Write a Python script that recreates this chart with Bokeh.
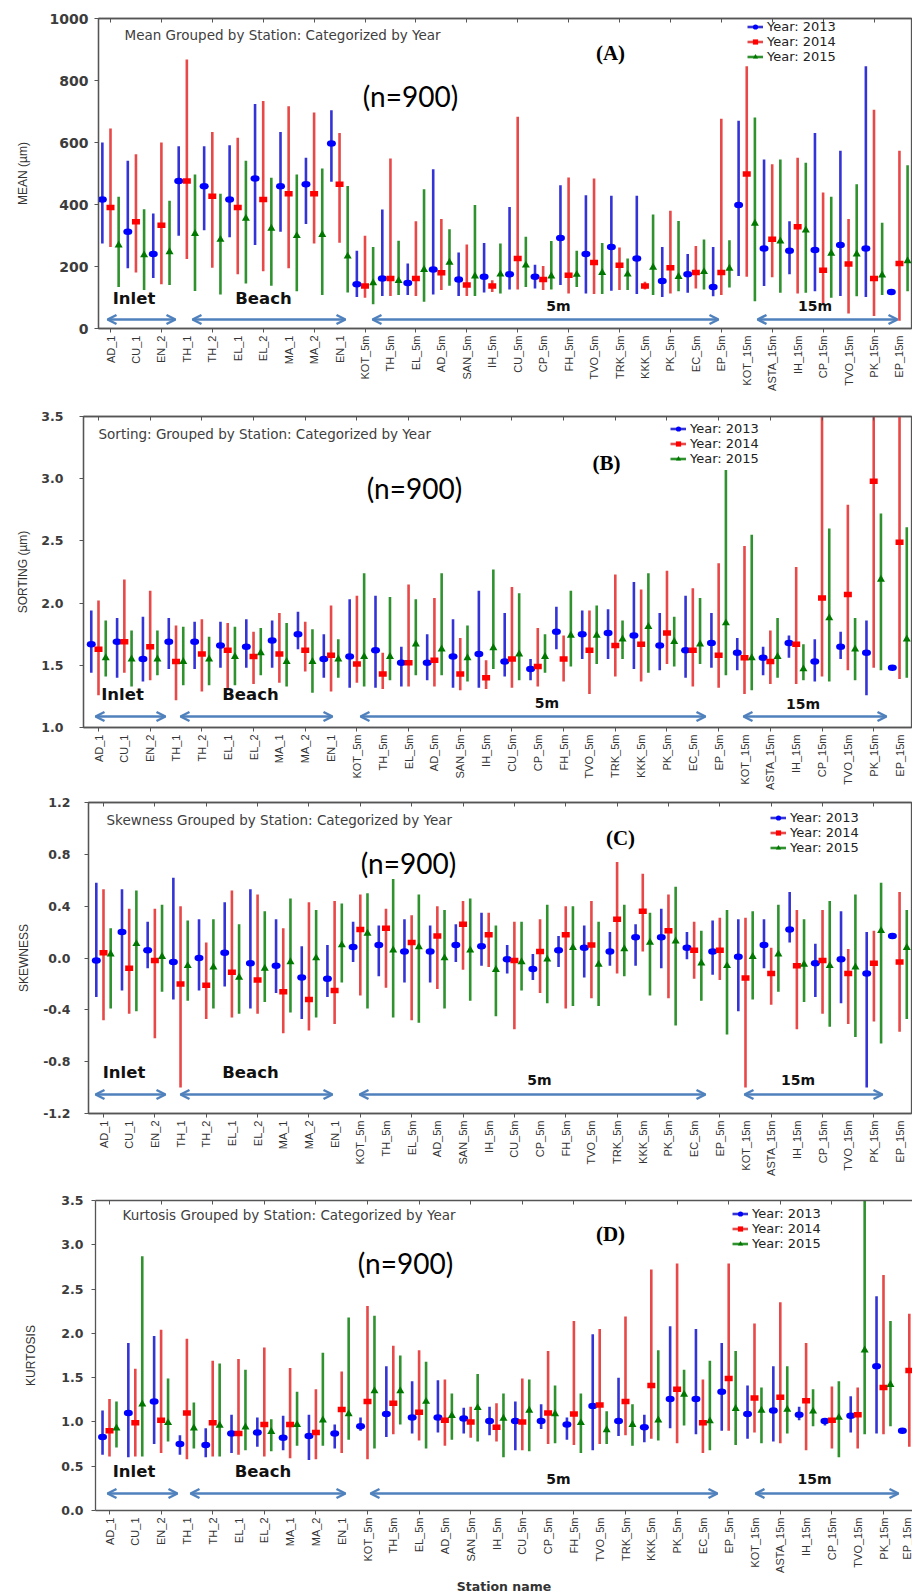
import numpy as np
from math import pi
from bokeh.plotting import figure
from bokeh.layouts import column
from bokeh.models import (ColumnDataSource, Range1d, FixedTicker, LinearAxis, Label,
                          Arrow, OpenHead, Legend, LegendItem, NumeralTickFormatter,
                          CustomJSTickFormatter)
from bokeh.embed import file_html
from bokeh.resources import INLINE

nan = float("nan")

STATIONS = ["AD_1", "CU_1", "EN_2", "TH_1", "TH_2", "EL_1", "EL_2", "MA_1", "MA_2", "EN_1",
            "KOT_5m", "TH_5m", "EL_5m", "AD_5m", "SAN_5m", "IH_5m", "CU_5m", "CP_5m", "FH_5m",
            "TVO_5m", "TRK_5m", "KKK_5m", "PK_5m", "EC_5m", "EP_5m",
            "KOT_15m", "ASTA_15m", "IH_15m", "CP_15m", "TVO_15m", "PK_15m", "EP_15m"]
YEARS = ["2013", "2014", "2015"]

# ---- Mean grain size (µm): mean and interval limits per year ----
MEAN_2013 = [416, 312, 240, 476, 459, 416, 484, 459, 465, 597, 143, 161, 147, 190, 158, 167, 175, 167, 292, 240, 263, 226, 153, 175, 134, 398, 258, 251, 253, 269, 258, 118]
MEAN_2013_LO = [274, 194, 163, 299, 317, 294, 269, 312, 337, 473, 102, 105, 108, 110, 105, 116, 126, 129, 140, 113, 122, 111, 102, 115, 104, 169, 137, 175, 120, 105, 102, 118]
MEAN_2013_HI = [600, 541, 371, 588, 588, 591, 724, 634, 551, 704, 251, 384, 210, 514, 245, 276, 392, 206, 462, 430, 428, 428, 263, 240, 263, 670, 545, 346, 631, 573, 846, 118]
MEAN_2014 = [390, 344, 333, 476, 427, 390, 416, 435, 435, 465, 137, 161, 161, 180, 140, 137, 226, 158, 172, 213, 204, 137, 196, 181, 181, 498, 288, 328, 188, 208, 161, 210]
MEAN_2014_LO = [263, 181, 143, 224, 196, 175, 185, 194, 274, 277, 99, 105, 105, 124, 105, 118, 126, 124, 113, 111, 124, 126, 113, 129, 108, 167, 165, 113, 81, 48, 40, 25]
MEAN_2014_HI = [645, 562, 600, 868, 634, 615, 734, 717, 697, 631, 299, 548, 346, 353, 271, 156, 683, 202, 487, 484, 261, 151, 380, 266, 677, 846, 530, 551, 439, 353, 706, 573]
MEAN_2015 = [269, 237, 247, 306, 287, 355, 323, 299, 303, 233, 147, 154, 190, 213, 169, 175, 204, 169, 174, 180, 175, 197, 167, 183, 194, 339, 282, 317, 242, 240, 172, 218]
MEAN_2015_LO = [134, 124, 140, 121, 110, 145, 138, 120, 108, 116, 78, 108, 86, 138, 105, 113, 134, 126, 134, 111, 124, 108, 120, 126, 132, 88, 115, 115, 99, 104, 108, 120]
MEAN_2015_HI = [425, 385, 412, 497, 435, 541, 486, 497, 516, 460, 263, 283, 449, 320, 398, 274, 296, 282, 251, 276, 226, 368, 347, 287, 285, 681, 545, 535, 425, 465, 341, 527]

# ---- Sorting ----
SORT_2013 = [1.67, 1.69, 1.55, 1.69, 1.69, 1.66, 1.65, 1.70, 1.75, 1.55, 1.57, 1.62, 1.52, 1.52, 1.57, 1.59, 1.53, 1.47, 1.77, 1.75, 1.76, 1.74, 1.66, 1.62, 1.68, 1.60, 1.56, 1.68, 1.53, 1.65, 1.60, 1.48]
SORT_2013_LO = [1.44, 1.40, 1.37, 1.47, 1.47, 1.48, 1.48, 1.48, 1.63, 1.40, 1.32, 1.32, 1.33, 1.38, 1.32, 1.32, 1.41, 1.38, 1.63, 1.55, 1.55, 1.47, 1.46, 1.40, 1.48, 1.46, 1.42, 1.56, 1.37, 1.55, 1.26, 1.48]
SORT_2013_HI = [1.94, 1.88, 1.89, 1.88, 1.85, 1.85, 1.87, 1.86, 1.93, 1.75, 2.03, 2.06, 1.65, 1.75, 1.87, 2.10, 1.92, 1.55, 1.97, 1.94, 1.95, 2.17, 1.92, 2.06, 1.92, 1.72, 1.65, 1.74, 1.71, 1.77, 1.86, 1.48]
SORT_2014 = [1.63, 1.69, 1.65, 1.53, 1.59, 1.62, 1.57, 1.59, 1.62, 1.58, 1.51, 1.43, 1.52, 1.54, 1.43, 1.40, 1.55, 1.49, 1.55, 1.62, 1.66, 1.67, 1.76, 1.62, 1.58, 1.56, 1.53, 1.67, 2.04, 2.07, 2.98, 2.49]
SORT_2014_LO = [1.26, 1.44, 1.38, 1.22, 1.29, 1.30, 1.35, 1.36, 1.45, 1.29, 1.36, 1.31, 1.33, 1.33, 1.30, 1.31, 1.32, 1.33, 1.37, 1.27, 1.41, 1.37, 1.51, 1.33, 1.32, 1.27, 1.35, 1.35, 1.41, 1.46, 1.48, 1.39]
SORT_2014_HI = [2.02, 2.19, 2.10, 1.82, 1.87, 1.84, 1.77, 1.92, 1.85, 1.98, 2.06, 1.60, 2.15, 2.04, 1.72, 1.54, 2.13, 1.80, 1.74, 1.94, 2.23, 2.11, 2.26, 2.12, 2.32, 2.46, 1.78, 2.29, 3.90, 2.79, 4.20, 4.10]
SORT_2015 = [1.56, 1.55, 1.55, 1.53, 1.55, 1.57, 1.60, 1.53, 1.53, 1.55, 1.57, 1.57, 1.67, 1.63, 1.56, 1.64, 1.59, 1.57, 1.74, 1.74, 1.71, 1.81, 1.69, 1.67, 1.84, 1.56, 1.57, 1.47, 1.88, 1.63, 2.19, 1.71]
SORT_2015_LO = [1.41, 1.33, 1.42, 1.34, 1.34, 1.34, 1.42, 1.33, 1.28, 1.40, 1.33, 1.38, 1.42, 1.42, 1.37, 1.47, 1.38, 1.44, 1.49, 1.51, 1.55, 1.44, 1.49, 1.51, 1.42, 1.30, 1.40, 1.38, 1.37, 1.38, 1.46, 1.40]
SORT_2015_HI = [1.86, 1.78, 1.78, 1.81, 1.73, 1.81, 1.80, 1.84, 1.79, 1.71, 2.24, 2.05, 2.03, 2.24, 1.82, 2.27, 2.08, 1.75, 2.10, 1.98, 1.86, 2.24, 1.89, 2.04, 3.07, 2.55, 1.88, 1.67, 2.60, 1.88, 2.72, 2.61]

# ---- Skewness ----
SKEW_2013 = [-0.02, 0.20, 0.06, -0.03, 0.00, 0.04, -0.04, -0.06, -0.15, -0.16, 0.085, 0.10, 0.05, 0.05, 0.10, 0.09, -0.01, -0.085, 0.06, 0.08, 0.05, 0.16, 0.16, 0.08, 0.05, 0.01, 0.10, 0.22, -0.04, -0.01, -0.12, 0.17]
SKEW_2013_LO = [-0.30, -0.25, -0.08, -0.32, -0.25, -0.22, -0.39, -0.27, -0.47, -0.30, -0.03, -0.14, -0.19, -0.19, -0.03, -0.06, -0.12, -0.17, -0.07, -0.15, -0.06, -0.06, -0.08, -0.01, -0.13, -0.41, -0.08, 0.12, -0.30, -0.35, -1.00, 0.17]
SKEW_2013_HI = [0.58, 0.53, 0.28, 0.62, 0.30, 0.43, 0.53, 0.30, 0.09, 0.10, 0.28, 0.25, 0.30, 0.25, 0.26, 0.35, 0.10, 0.03, 0.17, 0.25, 0.20, 0.26, 0.38, 0.20, 0.29, 0.30, 0.30, 0.51, 0.11, 0.36, 0.20, 0.17]
SKEW_2014 = [0.04, -0.08, -0.02, -0.20, -0.21, -0.11, -0.17, -0.26, -0.32, -0.25, 0.22, 0.23, 0.12, 0.17, 0.26, 0.18, -0.02, 0.05, 0.18, 0.10, 0.30, 0.36, 0.21, 0.06, 0.06, -0.155, -0.12, -0.06, -0.02, -0.12, -0.04, -0.03]
SKEW_2014_LO = [-0.48, -0.43, -0.62, -1.00, -0.47, -0.46, -0.43, -0.58, -0.56, -0.51, -0.29, -0.23, -0.48, -0.24, -0.09, -0.07, -0.55, -0.27, -0.39, -0.31, -0.12, 0.05, -0.31, -0.16, -0.17, -1.00, -0.36, -0.55, -0.43, -0.51, -0.49, -0.57]
SKEW_2014_HI = [0.53, 0.38, 0.38, 0.40, 0.12, 0.52, 0.49, 0.23, 0.43, 0.44, 0.49, 0.38, 0.33, 0.40, 0.44, 0.35, 0.28, 0.30, 0.40, 0.44, 0.74, 0.65, 0.49, 0.28, 0.31, 0.31, 0.08, 0.37, 0.37, 0.07, 0.21, 0.51]
SKEW_2015 = [0.03, 0.11, 0.01, -0.06, -0.07, -0.15, -0.08, -0.03, 0.00, 0.10, 0.19, 0.06, 0.085, 0.00, 0.06, -0.09, -0.03, -0.01, 0.08, -0.05, 0.07, 0.12, 0.13, -0.04, -0.06, 0.01, 0.03, -0.05, -0.06, -0.07, 0.21, 0.08]
SKEW_2015_LO = [-0.39, -0.41, -0.26, -0.33, -0.39, -0.43, -0.34, -0.42, -0.46, -0.19, -0.39, -0.46, -0.50, -0.39, -0.33, -0.45, -0.25, -0.35, -0.37, -0.37, -0.14, -0.29, -0.52, -0.33, -0.59, -0.32, -0.26, -0.34, -0.53, -0.61, -0.66, -0.47]
SKEW_2015_HI = [0.23, 0.52, 0.41, 0.29, 0.30, 0.26, 0.36, 0.46, 0.37, 0.42, 0.50, 0.61, 0.49, 0.37, 0.46, 0.25, 0.28, 0.41, 0.40, 0.28, 0.41, 0.35, 0.55, 0.21, 0.37, 0.36, 0.41, 0.30, 0.44, 0.49, 0.58, 0.37]

# ---- Kurtosis ----
KURT_2013 = [0.83, 1.10, 1.23, 0.75, 0.74, 0.87, 0.88, 0.82, 0.84, 0.87, 0.95, 1.09, 1.05, 1.05, 1.04, 1.01, 1.01, 1.01, 0.97, 1.18, 1.01, 0.94, 1.26, 1.26, 1.34, 1.09, 1.13, 1.08, 1.01, 1.07, 1.63, 0.90]
KURT_2013_LO = [0.63, 0.60, 0.75, 0.63, 0.60, 0.65, 0.72, 0.68, 0.57, 0.70, 0.90, 0.83, 0.87, 0.88, 0.87, 0.85, 0.68, 0.92, 0.80, 0.68, 0.84, 0.77, 0.93, 0.86, 0.90, 0.81, 0.78, 1.02, 0.96, 0.88, 0.87, 0.90]
KURT_2013_HI = [1.13, 1.89, 1.97, 0.85, 0.93, 1.08, 1.05, 1.07, 1.08, 0.97, 1.05, 1.63, 1.46, 1.47, 1.16, 1.17, 1.23, 1.20, 1.05, 1.99, 1.50, 1.08, 2.08, 2.05, 1.89, 1.41, 1.63, 1.17, 1.04, 1.29, 2.42, 0.90]
KURT_2014 = [0.90, 0.99, 1.02, 1.10, 0.99, 0.87, 0.97, 0.97, 0.88, 1.14, 1.23, 1.21, 1.11, 1.02, 1.00, 0.94, 1.00, 1.10, 1.09, 1.19, 1.23, 1.41, 1.37, 0.99, 1.49, 1.27, 1.28, 1.24, 1.02, 1.08, 1.39, 1.58]
KURT_2014_LO = [0.61, 0.61, 0.65, 0.58, 0.61, 0.63, 0.61, 0.59, 0.58, 0.65, 0.58, 0.86, 0.79, 0.73, 0.82, 0.78, 0.68, 0.75, 0.74, 0.75, 0.85, 0.81, 0.76, 0.65, 0.90, 0.88, 0.76, 0.68, 0.70, 0.70, 0.86, 0.72]
KURT_2014_HI = [1.26, 1.60, 2.04, 1.94, 1.69, 1.71, 1.84, 1.61, 1.37, 1.57, 2.31, 1.86, 1.81, 1.48, 1.17, 1.21, 1.49, 1.80, 2.14, 2.05, 2.19, 2.72, 2.79, 1.48, 2.79, 2.11, 2.35, 1.89, 1.40, 1.39, 2.66, 2.22]
KURT_2015 = [0.93, 1.20, 0.99, 0.93, 0.96, 0.94, 0.89, 0.97, 1.02, 1.09, 1.35, 1.35, 1.23, 1.07, 1.16, 1.04, 1.13, 1.09, 0.99, 0.91, 0.97, 1.02, 1.31, 1.01, 1.15, 1.13, 1.14, 1.12, 1.05, 1.81, 1.42, nan]
KURT_2015_LO = [0.71, 0.61, 0.78, 0.70, 0.61, 0.68, 0.67, 0.73, 0.73, 0.80, 0.70, 0.97, 0.70, 0.80, 0.78, 0.60, 0.67, 0.76, 0.65, 0.75, 0.73, 0.79, 0.96, 0.68, 0.74, 0.76, 0.87, 0.95, 0.60, 0.86, 0.95, nan]
KURT_2015_HI = [1.23, 2.87, 1.49, 1.22, 1.66, 1.59, 1.03, 1.34, 1.78, 2.18, 2.20, 1.75, 1.68, 1.32, 1.54, 1.32, 1.48, 1.41, 1.32, 1.12, 1.20, 1.81, 1.59, 1.69, 1.80, 1.39, 1.63, 1.37, 1.46, 3.90, 2.14, nan]

MARK_COLORS = ["#0000ff", "#ff0000", "#007800"]
BAR_COLORS = ["#3434d6", "#e84848", "#2f922f"]
ICON_MARKERS = ["circle", "square", "triangle"]
ARROW_COLOR = "#4f81bd"
FRAME_COLOR = "#555555"
TEXT_COLOR = "#333333"

# Page-pixel layout of each panel: figure band, plot frame (left, top, right, bottom),
# x position of the first station and station pitch.
PANELS = [
    dict(fig=(0, 400), frame=(98, 18, 911, 328), x_first=110, pitch=25.45, off=0.32,
         yr=(0, 1000), yticks=[0, 200, 400, 600, 800, 1000], yfmt="0", tick_size="14px", tick_gap=6,
         title="Mean Grouped by Station: Categorized by Year", title_at=(124, 34),
         ylabel="MEAN (µm)", ylabel_gap=17, letter="(A)", letter_at=(610, 52),
         n_at=(410, 95), legend_at=(747, 20), outline=True,
         groups=[("Inlet", 133.5, 298, True), ("Beach", 263, 298, True),
                 ("5m", 558, 305, False), ("15m", 814.5, 305, False)],
         arrow_y=319, arrows=[(107, 175), (192, 345), (372, 718), (757, 897)],
         series=[(MEAN_2013, MEAN_2013_LO, MEAN_2013_HI), (MEAN_2014, MEAN_2014_LO, MEAN_2014_HI),
                 (MEAN_2015, MEAN_2015_LO, MEAN_2015_HI)]),
    dict(fig=(400, 794), frame=(83, 416, 911, 727), x_first=98, pitch=25.84, off=0.28,
         yr=(1.0, 3.5), yticks=[1.0, 1.5, 2.0, 2.5, 3.0, 3.5], yfmt="0.0", tick_size="12.5px", tick_gap=16,
         title="Sorting: Grouped by Station: Categorized by Year", title_at=(98, 433),
         ylabel="SORTING (µm)", ylabel_gap=8, letter="(B)", letter_at=(606, 462),
         n_at=(414, 487), legend_at=(670, 422), outline=True,
         groups=[("Inlet", 122, 694, True), ("Beach", 250, 694, True),
                 ("5m", 546.5, 702, False), ("15m", 802.5, 703, False)],
         arrow_y=716, arrows=[(95, 165), (180, 332), (360, 705), (743, 886)],
         series=[(SORT_2013, SORT_2013_LO, SORT_2013_HI), (SORT_2014, SORT_2014_LO, SORT_2014_HI),
                 (SORT_2015, SORT_2015_LO, SORT_2015_HI)]),
    dict(fig=(794, 1183), frame=(88, 802, 911, 1113), x_first=103, pitch=25.68, off=0.28,
         yr=(-1.2, 1.2), yticks=[-1.2, -0.8, -0.4, 0.0, 0.4, 0.8, 1.2], yfmt="0.0", tick_size="12.5px", tick_gap=14,
         title="Skewness Grouped by Station: Categorized by Year", title_at=(106, 819),
         ylabel="SKEWNESS", ylabel_gap=9, letter="(C)", letter_at=(620, 837),
         n_at=(408, 862), legend_at=(770, 811), outline=True,
         groups=[("Inlet", 123.5, 1072, True), ("Beach", 250, 1072, True),
                 ("5m", 539, 1079, False), ("15m", 797.5, 1079, False)],
         arrow_y=1094, arrows=[(95, 165), (180, 332), (359, 705), (744, 882)],
         series=[(SKEW_2013, SKEW_2013_LO, SKEW_2013_HI), (SKEW_2014, SKEW_2014_LO, SKEW_2014_HI),
                 (SKEW_2015, SKEW_2015_LO, SKEW_2015_HI)]),
    dict(fig=(1183, 1596), frame=(95, 1200, 912, 1510), x_first=109, pitch=25.8, off=0.27,
         yr=(0.0, 3.5), yticks=[0.0, 0.5, 1.0, 1.5, 2.0, 2.5, 3.0, 3.5], yfmt="0.0", tick_size="12.5px", tick_gap=8,
         title="Kurtosis Grouped by Station: Categorized by Year", title_at=(122, 1214),
         ylabel="KURTOSIS", ylabel_gap=20, letter="(D)", letter_at=(610, 1233),
         n_at=(405, 1262), legend_at=(732, 1207), outline=False,
         groups=[("Inlet", 133.5, 1471, True), ("Beach", 262.5, 1471, True),
                 ("5m", 558, 1478, False), ("15m", 814, 1478, False)],
         arrow_y=1493, arrows=[(107, 177), (190, 345), (370, 717), (755, 898)],
         xtitle="Station name",
         series=[(KURT_2013, KURT_2013_LO, KURT_2013_HI), (KURT_2014, KURT_2014_LO, KURT_2014_HI),
                 (KURT_2015, KURT_2015_LO, KURT_2015_HI)]),
]

LEGEND_H = 44


def build(cfg):
    left, top, right, bottom = cfg["frame"]
    ftop, fbot = cfg["fig"]
    xr = ((left - cfg["x_first"]) / cfg["pitch"], (right - cfg["x_first"]) / cfg["pitch"])
    yr = cfg["yr"]

    def at(px, py):
        x = xr[0] + (px - left) / (right - left) * (xr[1] - xr[0])
        y = yr[1] - (py - top) / (bottom - top) * (yr[1] - yr[0])
        return x, y

    p = figure(width=912, height=fbot - ftop, x_range=Range1d(*xr), y_range=Range1d(*yr),
               output_backend="svg", toolbar_location=None,
               min_border_left=left, min_border_right=912 - right,
               min_border_top=top - ftop, min_border_bottom=fbot - bottom,
               background_fill_color="white", border_fill_color="white")
    # each panel keeps its own frame position inside the column
    p.frame_align = False
    p.grid.grid_line_color = None
    p.outline_line_color = FRAME_COLOR if cfg["outline"] else None
    p.outline_line_width = 1.3

    idx = list(range(len(STATIONS)))

    xa = p.xaxis[0]
    xa.ticker = FixedTicker(ticks=idx, minor_ticks=idx[::2])
    xa.formatter = CustomJSTickFormatter(args=dict(names=STATIONS),
                                         code="return names[Math.round(tick)] || '';")
    xa.major_label_orientation = pi / 2
    xa.major_tick_line_color = None
    xa.major_tick_out = 0
    xa.major_tick_in = 0
    xa.minor_tick_line_color = FRAME_COLOR
    xa.minor_tick_out = 4
    xa.minor_tick_in = 0
    xa.major_label_standoff = 3
    xa.major_label_text_font = "Liberation Sans"
    xa.major_label_text_font_size = "11px"
    xa.major_label_text_color = TEXT_COLOR
    xa.axis_line_color = FRAME_COLOR
    xa.axis_line_width = 1.3
    if "xtitle" in cfg:
        xa.axis_label = cfg["xtitle"]
        xa.axis_label_standoff = 3
        xa.axis_label_text_font = "DejaVu Sans"
        xa.axis_label_text_font_size = "12.5px"
        xa.axis_label_text_font_style = "bold"
        xa.axis_label_text_color = TEXT_COLOR

    ya = p.yaxis[0]
    ya.ticker = FixedTicker(ticks=cfg["yticks"], minor_ticks=[])
    ya.formatter = NumeralTickFormatter(format=cfg["yfmt"])
    ya.major_tick_out = 4
    ya.major_tick_in = 0
    ya.major_tick_line_color = FRAME_COLOR
    ya.minor_tick_line_color = None
    ya.major_label_standoff = cfg["tick_gap"]
    ya.major_label_text_font = "DejaVu Sans"
    ya.major_label_text_font_style = "bold"
    ya.major_label_text_font_size = cfg["tick_size"]
    ya.major_label_text_color = "#3c3c3c"
    ya.axis_line_color = FRAME_COLOR
    ya.axis_line_width = 1.3
    ya.axis_label = cfg["ylabel"]
    ya.axis_label_standoff = cfg["ylabel_gap"]
    ya.axis_label_text_font = "Liberation Sans"
    ya.axis_label_text_font_size = "12px"
    ya.axis_label_text_font_style = "normal"
    ya.axis_label_text_color = TEXT_COLOR

    top_ax = LinearAxis(ticker=FixedTicker(ticks=idx, minor_ticks=idx[::2]),
                        formatter=CustomJSTickFormatter(code="return '';"),
                        major_tick_line_color=None, major_tick_in=0, major_tick_out=0,
                        minor_tick_in=4, minor_tick_out=0, minor_tick_line_color=FRAME_COLOR,
                        axis_line_color=FRAME_COLOR, axis_line_width=1.3,
                        major_label_text_font_size="1px", major_label_standoff=0)
    p.add_layout(top_ax, "above")

    # error bars and mean markers, one series per year
    xs = np.arange(len(STATIONS), dtype=float)
    offsets = [-cfg["off"], 0.0, cfg["off"]]
    items = []
    for k, (mean, lo, hi) in enumerate(cfg["series"]):
        src = ColumnDataSource(dict(x=xs + offsets[k], y=np.array(mean, dtype=float),
                                    lo=np.array(lo, dtype=float), hi=np.array(hi, dtype=float)))
        seg = p.segment(x0="x", y0="lo", x1="x", y1="hi", source=src,
                        line_color=BAR_COLORS[k], line_width=2.6)
        if k == 0:
            p.ellipse(x="x", y="y", width=9, height=6.5, width_units="screen", height_units="screen",
                      fill_color=MARK_COLORS[k], line_color=None, source=src)
        elif k == 1:
            p.rect(x="x", y="y", width=8, height=5.5, width_units="screen", height_units="screen",
                   fill_color=MARK_COLORS[k], line_color=None, source=src)
        else:
            p.scatter(x="x", y="y", marker="triangle", size=8, fill_color=MARK_COLORS[k],
                      line_color=None, source=src)
        icon = p.scatter(x="x", y="y", marker=ICON_MARKERS[k], size=8, fill_color=MARK_COLORS[k],
                         line_color=None, source=src, visible=False)
        items.append(LegendItem(label="Year: " + YEARS[k], renderers=[seg, icon]))

    lx, ly = cfg["legend_at"]
    legend = Legend(items=items, location=(lx - left, bottom - ly - LEGEND_H),
                    orientation="vertical", glyph_width=16, glyph_height=13, label_height=13,
                    label_standoff=4, spacing=0, padding=0, margin=0,
                    border_line_color=None, background_fill_alpha=0,
                    label_text_font="DejaVu Sans", label_text_font_size="13px",
                    label_text_color="#222222", click_policy="none")
    p.add_layout(legend)

    def text(s, px, py, font, size, color="#111111", style="normal", align="center"):
        x, y = at(px, py)
        p.add_layout(Label(x=x, y=y, text=s, text_font=font, text_font_size=size,
                           text_color=color, text_font_style=style, text_align=align,
                           text_baseline="middle"))

    tx, ty = cfg["title_at"]
    text(cfg["title"], tx, ty, "DejaVu Sans", "13.5px", color="#404040", align="left")
    lx, ly = cfg["letter_at"]
    text(cfg["letter"], lx, ly, "Liberation Serif", "21px", color="#000000", style="bold")
    nx, ny = cfg["n_at"]
    text("(n=900)", nx, ny, "Lato", "28px", color="#000000")

    for name, gx, gy, big in cfg["groups"]:
        text(name, gx, gy, "DejaVu Sans", "16.5px" if big else "14px", color="#111111", style="bold")

    for ax0, ax1 in cfg["arrows"]:
        xa0, ya0 = at(ax0, cfg["arrow_y"])
        xa1, _ = at(ax1, cfg["arrow_y"])
        p.add_layout(Arrow(x_start=xa0, y_start=ya0, x_end=xa1, y_end=ya0,
                           line_color=ARROW_COLOR, line_width=2.5,
                           start=OpenHead(size=9, line_color=ARROW_COLOR, line_width=2.5),
                           end=OpenHead(size=9, line_color=ARROW_COLOR, line_width=2.5)))
    return p


layout = column(*[build(cfg) for cfg in PANELS], spacing=0)
open("out.html", "w").write(file_html(layout, INLINE))
